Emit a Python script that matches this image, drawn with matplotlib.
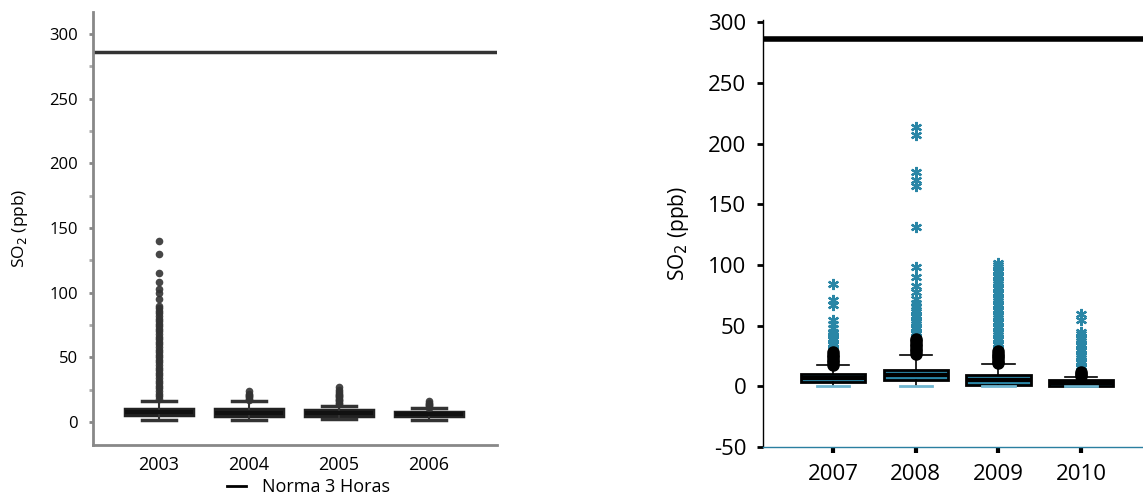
import numpy as np
import matplotlib.pyplot as plt
from matplotlib.lines import Line2D

plt.rcParams['font.family'] = ['Open Sans', 'DejaVu Sans']
plt.rcParams['axes.unicode_minus'] = False

# ---- data ----
norma = 286

years_a = ['2003', '2004', '2005', '2006']
q1_a = [5.2, 4.4, 5.0, 4.4]
med_a = [7.5, 7.0, 7.0, 6.0]
q3_a = [10.0, 10.0, 9.0, 7.5]
lo_a = [1.8, 1.3, 2.3, 1.3]
hi_a = [16.5, 16.5, 12.6, 10.8]
out_a = [
    [18, 20, 22, 24, 26, 28, 30, 32, 34, 36, 38, 40, 42, 44, 46, 48, 50, 52, 54, 56, 58,
     60, 62, 64, 66, 68, 70, 72, 74, 76, 78, 80, 82, 84, 86, 88, 90, 95, 100, 103, 108, 115, 130, 140],
    [17, 18, 19, 20, 21, 22, 24],
    [14, 15, 16, 17, 18, 19, 20, 21, 22, 23, 25, 27],
    [11, 12, 13, 14, 15, 16],
]

years_b = ['2007', '2008', '2009', '2010']
q1_b = [3.6, 5.5, 1.4, 0.5]
med_b = [7.0, 9.5, 5.0, 2.5]
q3_b = [10.5, 13.8, 9.0, 5.5]
lo_b = [0, 0, 0, 0]
hi_b = [17.3, 26.0, 18.7, 8.0]
# near outliers (black dots)
near_b = [
    [18, 20, 22, 24, 26, 28],
    [27, 29, 31, 33, 35, 37, 39],
    [19, 21, 23, 25, 27, 29],
    [8.5, 10, 11.5],
]
# far outliers (blue stars)
far_b = [
    [30, 32, 34, 36, 38, 40, 42, 44, 45, 48, 51, 55, 67, 71, 84],
    [41, 43, 45, 47, 49, 51, 53, 55, 57, 59, 61, 63, 66, 69, 72, 78, 83, 90, 98, 131, 165, 170, 177, 207, 214],
    [30, 32, 34, 36, 38, 40, 42, 44, 46, 48, 50, 52, 54, 56, 58, 60, 62, 64, 66, 68, 70, 72, 74,
     76, 78, 80, 82, 84, 86, 88, 90, 92, 94, 96, 98, 100, 102],
    [13, 15, 17, 19, 21, 23, 25, 27, 29, 31, 33, 35, 37, 39, 41, 43, 45, 55, 60],
]

blue = '#2a86a6'

fig = plt.figure(figsize=(11.43, 5), dpi=100)

# ---------------- left panel ----------------
ax1 = fig.add_axes([0.0814, 0.11, 0.3535, 0.866])
pos = np.arange(1, 5)
stats = []
for i in range(4):
    stats.append(dict(med=med_a[i], q1=q1_a[i], q3=q3_a[i], whislo=lo_a[i], whishi=hi_a[i], fliers=[]))
ax1.bxp(stats, positions=pos, widths=0.76, showfliers=False, patch_artist=True,
        boxprops=dict(facecolor='#444444', edgecolor='#222222', linewidth=2.5),
        medianprops=dict(color='#111111', linewidth=3),
        whiskerprops=dict(color='#333333', linewidth=1.5),
        capprops=dict(color='#333333', linewidth=2.5))
for i in range(4):
    ax1.plot([pos[i]] * len(out_a[i]), out_a[i], 'o', color='#333333', ms=5.5, alpha=0.9, mec='none')
ax1.axhline(norma, color='#333333', lw=2.5)
ax1.set_xlim(0.27, 4.76)
ax1.set_ylim(-17.8, 317)
ax1.set_xticks(pos)
ax1.set_xticklabels(years_a, fontsize=13)
ax1.set_yticks(np.arange(0, 301, 50))
ax1.set_yticks(np.arange(25, 301, 50), minor=True)
ax1.tick_params(axis='y', labelsize=12, length=3, width=2, color='#888888', pad=8)
ax1.tick_params(axis='y', which='minor', length=3, width=2, color='#aaaaaa')
ax1.tick_params(axis='x', length=0, pad=8)
for s in ['top', 'right']:
    ax1.spines[s].set_visible(False)
for s in ['left', 'bottom']:
    ax1.spines[s].set_color('#888888')
    ax1.spines[s].set_linewidth(2)
ax1.set_ylabel('SO$_2$ (ppb)', fontsize=12.5, labelpad=14)
h = [Line2D([], [], color='black', lw=2)]
fig.legend(h, ['Norma 3 Horas'], loc='center', bbox_to_anchor=(0.27, 0.025), frameon=False,
           fontsize=13, handlelength=1.0, handletextpad=0.9)

# ---------------- right panel ----------------
ax2 = fig.add_axes([0.6675, 0.106, 0.3325, 0.854])
stats = []
for i in range(4):
    stats.append(dict(med=med_b[i], q1=q1_b[i], q3=q3_b[i], whislo=lo_b[i], whishi=hi_b[i], fliers=[]))
bp = ax2.bxp(stats, positions=pos, widths=0.78, showfliers=False, patch_artist=True,
             boxprops=dict(facecolor=blue, edgecolor='black', linewidth=2),
             medianprops=dict(color='black', linewidth=3),
             whiskerprops=dict(color='black', linewidth=1.2),
             capprops=dict(color='black', linewidth=1.2))
for i, cap in enumerate(bp['caps']):
    if i % 2 == 0:
        cap.set_color('#6fb6d0')
        cap.set_linewidth(2)
for i in range(4):
    ax2.plot([pos[i]] * len(far_b[i]), far_b[i], marker=(6, 2, 0), ls='none', color=blue, ms=8, mew=1.6)
    ax2.plot([pos[i]] * len(near_b[i]), near_b[i], 'o', color='black', ms=8)
ax2.axhline(norma, color='black', lw=4)
ax2.set_xlim(0.15, 4.75)
ax2.set_ylim(-50, 302)
ax2.set_xticks(pos)
ax2.set_xticklabels(years_b, fontsize=16)
ax2.set_yticks(np.arange(-50, 301, 50))
ax2.tick_params(axis='y', labelsize=16, length=4, width=2, pad=8)
ax2.tick_params(axis='x', length=4, width=3, pad=8)
for s in ['top', 'right']:
    ax2.spines[s].set_visible(False)
ax2.spines['left'].set_linewidth(1)
ax2.spines['bottom'].set_linewidth(1)
ax2.spines['bottom'].set_color('#2a7fa0')
ax2.set_ylabel('SO$_2$ (ppb)', fontsize=15, labelpad=12)

fig.savefig('out.png', dpi=100)
